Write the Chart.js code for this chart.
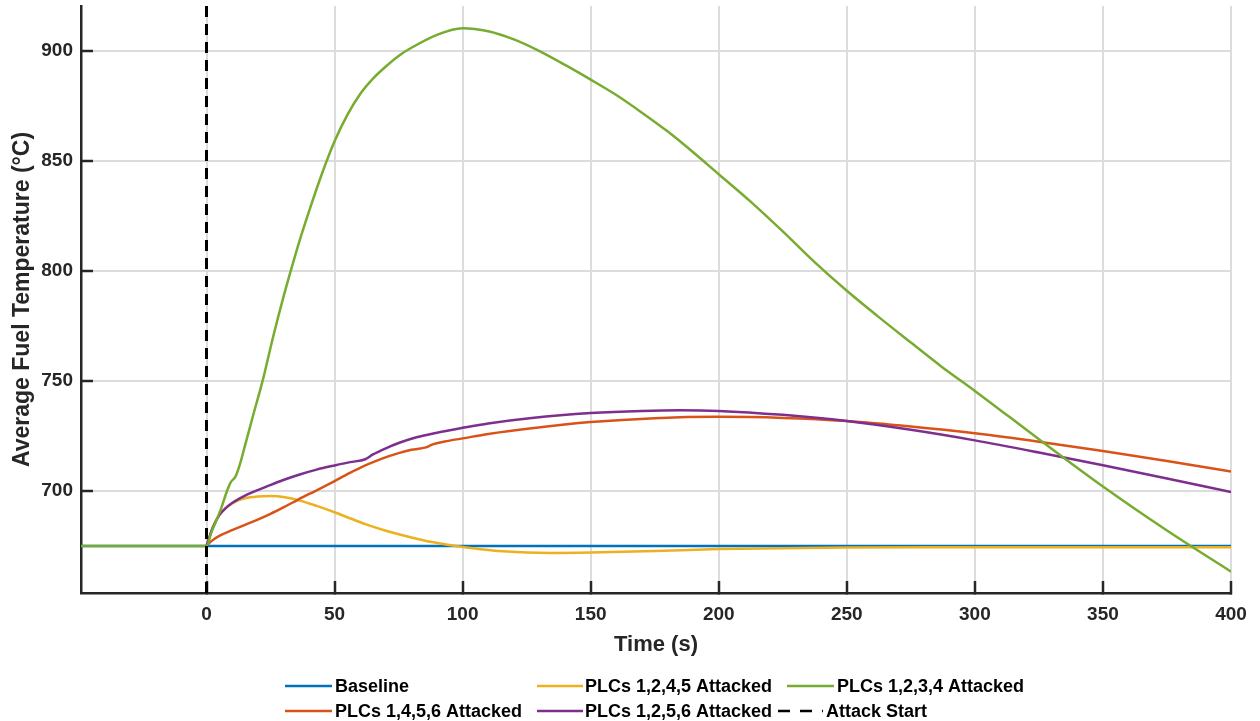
<!DOCTYPE html>
<html>
<head>
<meta charset="utf-8">
<script src="https://cdn.jsdelivr.net/npm/chart.js@4.4.0/dist/chart.umd.min.js"></script>
<style>
  html, body { margin: 0; padding: 0; background: #ffffff; }
  #wrap { width: 1260px; height: 721px; position: relative; }
</style>
</head>
<body>
<div id="wrap"><canvas id="c" width="1260" height="721"></canvas></div>
<script>
// ---------------- data ----------------
const xRange = [-49, 400];
const yRange = [653.6, 920.5];
const xTickValues = [0, 50, 100, 150, 200, 250, 300, 350, 400];
const yTickValues = [700, 750, 800, 850, 900];
const attackTime = 0;

const seriesLabels = [
  'Baseline',
  'PLCs 1,2,4,5 Attacked',
  'PLCs 1,2,3,4 Attacked',
  'PLCs 1,4,5,6 Attacked',
  'PLCs 1,2,5,6 Attacked',
  'Attack Start'
];

const baselineT = [-49, 0, 100, 200, 300, 400];
const baselineV = [675, 675, 675, 675, 675, 675];

const plc1245T = [0, 2.5, 5, 7.5, 10, 12, 14, 17, 20, 25, 30, 36, 43, 50, 56, 62, 70, 75, 82, 88, 100, 107, 114, 125, 134, 150, 175, 200, 250, 300, 400];
const plc1245V = [675, 683.5, 689, 692.2, 694.3, 695.5, 696.3, 697.1, 697.5, 697.7, 697.3, 695.8, 693.2, 690.3, 687.6, 684.9, 681.9, 680.3, 678.3, 676.8, 674.5, 673.5, 672.7, 672, 671.8, 672, 672.7, 673.6, 674.3, 674.4, 674.4];

const plc1234T = [-49, 0, 2, 4, 6, 8, 9.5, 11.3, 13, 15, 18, 22, 26, 30, 33, 36, 40, 45, 50, 55, 60, 65, 70, 75, 80, 90, 100, 110, 120, 130, 140, 150, 160, 170, 180, 190, 200, 212, 225, 237, 250, 262, 275, 287, 300, 325, 350, 375, 400];
const plc1234V = [675, 675, 681.5, 687, 693, 700, 704, 706.5, 712, 720.5, 733.5, 750.5, 770, 788, 800.5, 812.5, 827, 844, 859, 871, 880.5, 887.5, 893, 897.8, 901.5, 907.4, 910.4, 909, 905.3, 900, 893.7, 887, 880, 872, 863.5, 854, 844, 832, 818, 804.5, 791, 779.5, 767.5, 756.5, 745.5, 723.5, 702, 682, 663.3];

const plc1456T = [0, 2, 5, 10, 15, 20, 25, 30, 36, 43, 50, 56, 62, 68, 75, 80, 85.7, 88.3, 93, 100, 110, 127, 150, 175, 200, 225, 250, 275, 300, 325, 350, 375, 400];
const plc1456V = [675, 677.3, 679.6, 682.2, 684.6, 687, 689.6, 692.5, 696.2, 700.3, 704.5, 708.2, 711.6, 714.5, 717.2, 718.7, 719.8, 721.2, 722.5, 723.9, 725.9, 728.5, 731.3, 733.1, 733.7, 733.2, 731.8, 729.3, 726.2, 722.4, 718.2, 713.6, 708.8];

const plc1256T = [0, 2.5, 5, 7.5, 10, 13, 16, 20, 23.4, 30, 36.4, 43, 50, 56, 62, 65, 70, 75.3, 82, 90, 100, 110, 127, 150, 170, 185, 200, 225, 250, 275, 300, 325, 350, 375, 400];
const plc1256V = [675, 683.5, 689, 692.2, 694.5, 696.6, 698.4, 700.4, 702, 705, 707.5, 709.7, 711.6, 713.1, 714.4, 716.6, 719.4, 721.9, 724.4, 726.5, 728.7, 730.7, 733.2, 735.4, 736.4, 736.7, 736.4, 734.6, 731.8, 727.8, 723, 717.5, 711.7, 705.7, 699.5];

const attackV = [yRange[0], yRange[1]];

// ---------------- helpers ----------------
function toPoints(ts, vs) { return ts.map((t, i) => ({ x: t, y: vs[i] })); }

const FONT = '"Liberation Sans", Arial, Helvetica, sans-serif';
const AXIS_COLOR = '#262626';

function lineDs(label, ts, vs, color, order) {
  return {
    label: label,
    data: toPoints(ts, vs),
    borderColor: color,
    backgroundColor: color,
    borderWidth: 2.5,
    pointRadius: 0,
    pointHoverRadius: 0,
    fill: false,
    cubicInterpolationMode: 'monotone',
    order: order
  };
}

const datasets = [
  lineDs(seriesLabels[0], baselineT, baselineV, '#0072BD', 5),
  lineDs(seriesLabels[1], plc1245T, plc1245V, '#EDB120', 4),
  lineDs(seriesLabels[2], plc1234T, plc1234V, '#77AC30', 1),
  lineDs(seriesLabels[3], plc1456T, plc1456V, '#D95319', 3),
  lineDs(seriesLabels[4], plc1256T, plc1256V, '#7E2F8E', 2),
  {
    label: seriesLabels[5],
    data: toPoints([attackTime, attackTime], attackV),
    borderColor: '#000000',
    backgroundColor: '#000000',
    borderWidth: 3,
    borderDash: [11, 7],
    pointRadius: 0,
    pointHoverRadius: 0,
    fill: false,
    order: 0
  }
];

// custom legend (MATLAB style, 3 columns x 2 rows)
const legendSlots = [
  { ds: 0, x: 285, y: 686, len: 47, tx: 335 },
  { ds: 1, x: 537, y: 686, len: 46, tx: 585 },
  { ds: 2, x: 787, y: 686, len: 47, tx: 837 },
  { ds: 3, x: 285, y: 711, len: 47, tx: 335 },
  { ds: 4, x: 537, y: 711, len: 46, tx: 585 },
  { ds: 5, x: 778, y: 711, len: 45, tx: 826, dash: [12, 10] }
];

const legendPlugin = {
  id: 'matlabLegend',
  afterDraw(chart) {
    const ctx = chart.ctx;
    ctx.save();
    ctx.font = 'bold 18px ' + FONT;
    ctx.textBaseline = 'middle';
    ctx.textAlign = 'left';
    for (const s of legendSlots) {
      const ds = chart.data.datasets[s.ds];
      ctx.strokeStyle = ds.borderColor;
      ctx.lineWidth = 2.5;
      ctx.setLineDash(s.dash || []);
      ctx.beginPath();
      ctx.moveTo(s.x, s.y);
      ctx.lineTo(s.x + s.len, s.y);
      ctx.stroke();
      ctx.setLineDash([]);
      ctx.fillStyle = '#000000';
      ctx.fillText(ds.label, s.tx, s.y + 1);
    }
    ctx.restore();
  }
};

new Chart(document.getElementById('c'), {
  type: 'line',
  data: { datasets: datasets },
  plugins: [legendPlugin],
  options: {
    responsive: false,
    animation: false,
    events: [],
    layout: { padding: { left: 0, right: 29, top: 6, bottom: 62 } },
    plugins: {
      legend: { display: false },
      title: { display: false },
      tooltip: { enabled: false }
    },
    scales: {
      x: {
        type: 'linear',
        min: xRange[0],
        max: xRange[1],
        afterBuildTicks: (s) => { s.ticks = xTickValues.map(v => ({ value: v })); },
        afterFit: (s) => { s.height = 66; s.paddingLeft = 0; s.paddingRight = 0; },
        grid: {
          color: '#dcdcdc',
          lineWidth: 2,
          drawTicks: true,
          tickLength: -12,
          tickColor: AXIS_COLOR,
          tickWidth: 2.5
        },
        border: { display: true, color: AXIS_COLOR, width: 2.5 },
        ticks: {
          color: AXIS_COLOR,
          font: { family: FONT, size: 19, weight: 'bold' },
          padding: 22,
          maxRotation: 0,
          autoSkip: false
        },
        title: {
          display: true,
          text: 'Time (s)',
          color: AXIS_COLOR,
          font: { family: FONT, size: 22, weight: 'bold' },
          padding: { top: 0, bottom: 1 }
        }
      },
      y: {
        type: 'linear',
        min: yRange[0],
        max: yRange[1],
        afterBuildTicks: (s) => { s.ticks = yTickValues.map(v => ({ value: v })); },
        afterFit: (s) => { s.width = 81; s.paddingTop = 0; s.paddingBottom = 0; },
        grid: {
          color: '#dcdcdc',
          lineWidth: 2,
          drawTicks: true,
          tickLength: -12,
          tickColor: AXIS_COLOR,
          tickWidth: 2.5
        },
        border: { display: true, color: AXIS_COLOR, width: 2.5 },
        ticks: {
          color: AXIS_COLOR,
          font: { family: FONT, size: 19, weight: 'bold' },
          padding: 20,
          autoSkip: false
        },
        title: {
          display: true,
          text: 'Average Fuel Temperature (°C)',
          color: AXIS_COLOR,
          font: { family: FONT, size: 23, weight: 'bold' },
          padding: { top: 9, bottom: 0 }
        }
      }
    }
  }
});
</script>
</body>
</html>
